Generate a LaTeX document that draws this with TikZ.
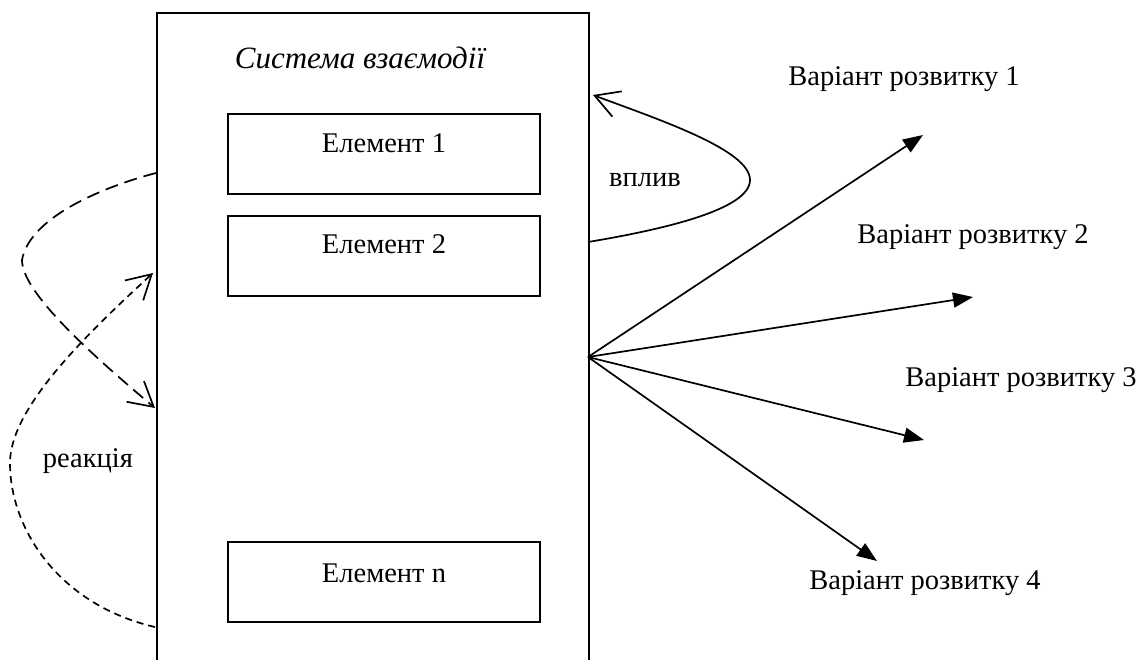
\documentclass[tikz,border=0pt]{standalone}
\usepackage{fontspec}
\setmainfont{Liberation Serif}
\usetikzlibrary{arrows.meta}
\begin{document}
\begin{tikzpicture}[x=1pt,y=-1pt,
  lbl/.style={font=\fontsize{28.5}{34}\selectfont, anchor=base, inner sep=0pt},
  elbox/.style={draw, line width=1.8pt, minimum width=312pt, minimum height=80pt, inner sep=0pt},
  fan/.style={line width=1.7pt, -{Triangle[length=20pt,width=15pt]}},
  openarr/.style={line width=1.7pt, -{Straight Barb[length=24pt,width=27pt,line width=1.7pt]}},
  longdash/.style={dash pattern=on 13pt off 7pt},
  shortdash/.style={dash pattern=on 7pt off 5pt}]
\useasboundingbox (0,0) rectangle (1142,659);
\clip (0,0) rectangle (1142,659);
% system frame
\node[draw, line width=1.8pt, minimum width=432pt, minimum height=700pt, inner sep=0pt, anchor=north west] (sys) at (156,12) {};
\node[lbl, font=\fontsize{31}{37}\selectfont\itshape] (title) at (360,68) {Система взаємодії};
% elements
\node[elbox] (e1) at (384,154) {};
\node[elbox] (e2) at (384,256) {};
\node[elbox] (en) at (384,582) {};
\node[lbl] (t1) at (384,152) {Елемент 1};
\node[lbl] (t2) at (384,253) {Елемент 2};
\node[lbl] (tn) at (384,582) {Елемент n};
% fan
\coordinate (src) at (588,357);
\coordinate (v1) at (923,135);
\coordinate (v2) at (973,297);
\coordinate (v3) at (924,440);
\coordinate (v4) at (877,561);
\draw[fan] (src) -- (v1);
\draw[fan] (src) -- (v2);
\draw[fan] (src) -- (v3);
\draw[fan] (src) -- (v4);
\node[lbl] (l1) at (904,85) {Варіант розвитку 1};
\node[lbl] (l2) at (973,243) {Варіант розвитку 2};
\node[lbl] (l3) at (1021,386) {Варіант розвитку 3};
\node[lbl] (l4) at (925,589) {Варіант розвитку 4};
% influence
\coordinate (ia) at (588,242);
\coordinate (ib) at (593,95);
\draw[openarr] (ia) .. controls (660,230) and (750,210) .. (750,180)
  .. controls (750,150) and (660,120) .. (ib);
\node[lbl] (vpl) at (645,186) {вплив};
% reaction
\coordinate (ra) at (156,173);
\coordinate (rb) at (155,408);
\coordinate (rc) at (155,627);
\coordinate (rd) at (153,273);
\draw[openarr, longdash] (ra) .. controls (110,185) and (30,215) .. (22,260)
  .. controls (22,290) and (80,345) .. (rb);
\draw[openarr, shortdash] (rc) .. controls (60,605) and (10,530) .. (10,463)
  .. controls (10,410) and (80,340) .. (rd);
\node[lbl] (reak) at (88,467) {реакція};
\end{tikzpicture}
\end{document}
